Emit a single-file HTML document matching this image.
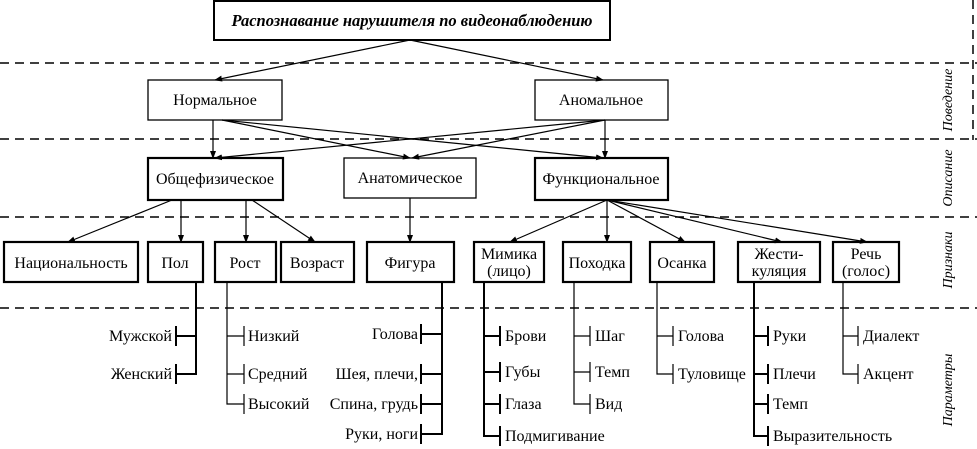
<!DOCTYPE html>
<html><head><meta charset="utf-8"><style>
html,body{margin:0;padding:0;background:#fff;}
svg{display:block;}
text{font-family:"Liberation Serif",serif;font-size:16px;fill:#000;}
</style></head><body>
<svg width="977" height="449" viewBox="0 0 977 449" xmlns="http://www.w3.org/2000/svg">
<defs>
<marker id="a" markerWidth="8" markerHeight="8" refX="7" refY="4" orient="auto" markerUnits="userSpaceOnUse">
<path d="M0,1 L8,4 L0,7 Z" fill="#000"/></marker>
</defs>
<g stroke="#000" stroke-width="1.5" stroke-dasharray="9,6">
<line x1="0" y1="63" x2="977" y2="63"/>
<line x1="0" y1="139" x2="977" y2="139"/>
<line x1="0" y1="217" x2="977" y2="217"/>
<line x1="0" y1="308" x2="977" y2="308"/>
<line x1="973" y1="0" x2="973" y2="140"/>
</g>
<g fill="#fff" stroke="#000">
<rect x="214" y="1" width="396" height="39" stroke-width="2"/>
<rect x="148" y="80" width="134" height="40" stroke-width="1.3"/>
<rect x="535" y="80" width="133" height="40" stroke-width="1.3"/>
<rect x="148" y="158" width="135" height="42" stroke-width="2.2"/>
<rect x="344" y="158" width="132" height="40" stroke-width="1.3"/>
<rect x="535" y="158" width="133" height="42" stroke-width="2.2"/>
<g stroke-width="2.2">
<rect x="4" y="242" width="134" height="40"/>
<rect x="148" y="242" width="55" height="40"/>
<rect x="215" y="242" width="61" height="40"/>
<rect x="281" y="242" width="73" height="40"/>
<rect x="367" y="242" width="87" height="40"/>
<rect x="474" y="242" width="70" height="40"/>
<rect x="563" y="242" width="68" height="40"/>
<rect x="650" y="242" width="64" height="40"/>
<rect x="738" y="242" width="82" height="40"/>
<rect x="833" y="242" width="66" height="40"/>
</g>
</g>
<g stroke="#000" stroke-width="1.2" marker-end="url(#a)">
<line x1="410" y1="40" x2="215" y2="80"/>
<line x1="410" y1="40" x2="603" y2="80"/>
<line x1="213" y1="120" x2="213" y2="158"/>
<line x1="222" y1="120" x2="410" y2="158"/>
<line x1="222" y1="120" x2="603" y2="158"/>
<line x1="605" y1="120" x2="605" y2="158"/>
<line x1="605" y1="120" x2="412" y2="158"/>
<line x1="605" y1="120" x2="215" y2="158"/>
<line x1="172" y1="200" x2="68" y2="242"/>
<line x1="181" y1="200" x2="181" y2="242"/>
<line x1="246" y1="200" x2="246" y2="242"/>
<line x1="252" y1="200" x2="315" y2="242"/>
<line x1="410" y1="198" x2="410" y2="242"/>
<line x1="607" y1="200" x2="510" y2="242"/>
<line x1="607" y1="200" x2="607" y2="242"/>
<line x1="607" y1="200" x2="685" y2="242"/>
<line x1="607" y1="200" x2="782" y2="242"/>
<line x1="607" y1="200" x2="867" y2="242"/>
</g>
<g stroke="#000" stroke-width="2" fill="none">
<path d="M196,282 V374 H176 M196,336 H176"/>
<path d="M176,326 V346 M176,364 V384"/>
<path d="M227,282 V404 H244 M227,336 H244 M227,374 H244" stroke-width="1.2"/>
<path d="M244,326 V346 M244,364 V384 M244,394 V414" stroke-width="1.2"/>
<path d="M442,282 V434 H421 M442,334 H421 M442,374 H421 M442,404 H421"/>
<path d="M421,324 V344 M421,364 V384 M421,394 V414 M421,424 V444"/>
<path d="M484,282 V436 H500 M484,336 H500 M484,372 H500 M484,404 H500"/>
<path d="M500,326 V346 M500,362 V382 M500,394 V414 M500,426 V446"/>
<path d="M574,282 V404 H590 M574,336 H590 M574,372 H590" stroke-width="1.2"/>
<path d="M590,326 V346 M590,362 V382 M590,394 V414" stroke-width="1.2"/>
<path d="M657,282 V374 H673 M657,336 H673" stroke-width="1.2"/>
<path d="M673,326 V346 M673,364 V384" stroke-width="1.2"/>
<path d="M754,282 V436 H768 M754,336 H768 M754,374 H768 M754,404 H768"/>
<path d="M768,326 V346 M768,364 V384 M768,394 V414 M768,426 V446"/>
<path d="M843,282 V374 H858 M843,336 H858" stroke-width="1.2"/>
<path d="M858,326 V346 M858,364 V384" stroke-width="1.2"/>
</g>
<g text-anchor="middle">
<text x="412" y="26" font-style="italic" font-weight="bold" style="font-size:16.5px">Распознавание нарушителя по видеонаблюдению</text>
<text x="215" y="105">Нормальное</text>
<text x="601" y="105">Аномальное</text>
<text x="215" y="184">Общефизическое</text>
<text x="410" y="183">Анатомическое</text>
<text x="601" y="184">Функциональное</text>
<text x="71" y="268">Национальность</text>
<text x="175" y="268">Пол</text>
<text x="245" y="268">Рост</text>
<text x="317" y="268">Возраст</text>
<text x="410" y="268">Фигура</text>
<text x="509" y="259">Мимика</text>
<text x="509" y="276">(лицо)</text>
<text x="597" y="268">Походка</text>
<text x="682" y="268">Осанка</text>
<text x="779" y="259">Жести-</text>
<text x="779" y="276">куляция</text>
<text x="866" y="259">Речь</text>
<text x="866" y="276">(голос)</text>
</g>
<g text-anchor="end">
<text x="172" y="341">Мужской</text>
<text x="172" y="379">Женский</text>
<text x="418" y="339">Голова</text>
<text x="418" y="379">Шея, плечи,</text>
<text x="418" y="409">Спина, грудь</text>
<text x="418" y="439">Руки, ноги</text>
</g>
<g>
<text x="248" y="341">Низкий</text>
<text x="248" y="379">Средний</text>
<text x="248" y="409">Высокий</text>
<text x="505" y="341">Брови</text>
<text x="505" y="377">Губы</text>
<text x="505" y="409">Глаза</text>
<text x="505" y="441">Подмигивание</text>
<text x="595" y="341">Шаг</text>
<text x="595" y="377">Темп</text>
<text x="595" y="409">Вид</text>
<text x="678" y="341">Голова</text>
<text x="678" y="379">Туловище</text>
<text x="773" y="341">Руки</text>
<text x="773" y="379">Плечи</text>
<text x="773" y="409">Темп</text>
<text x="773" y="441">Выразительность</text>
<text x="863" y="341">Диалект</text>
<text x="863" y="379">Акцент</text>
</g>
<g font-style="italic" text-anchor="middle">
<text transform="translate(952,100) rotate(-90)" style="font-size:14px">Поведение</text>
<text transform="translate(952,178) rotate(-90)" style="font-size:14px">Описание</text>
<text transform="translate(952,260) rotate(-90)" style="font-size:14px">Признаки</text>
<text transform="translate(952,390) rotate(-90)" style="font-size:14px">Параметры</text>
</g>
</svg>
</body></html>
